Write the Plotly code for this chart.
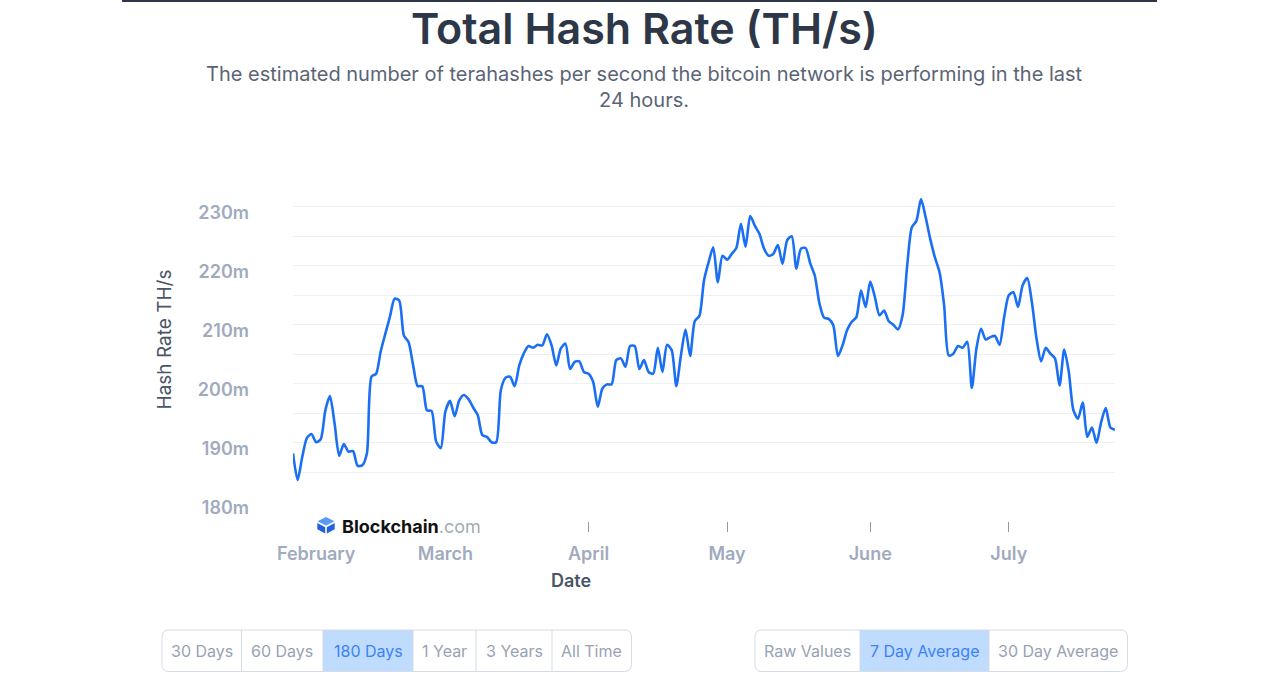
import plotly.graph_objects as go
import pandas as pd

# ---------------- data ----------------
start_date = "2022-01-27"
hash_rate_m = [
    188.2, 183.7, 187.6, 190.8, 191.5, 190.1, 190.6, 195.5, 197.9, 193.3,
    187.8, 189.8, 188.5, 188.6, 186.1, 186.2, 188.2, 201.2, 201.7, 205.5,
    208.5, 211.4, 214.4, 214.1, 208.2, 207.1, 203.2, 199.6, 199.6, 195.5,
    195.4, 190.2, 189.1, 195.3, 197.1, 194.5, 197.2, 198.1, 197.4, 196.0,
    194.7, 191.3, 191.0, 190.1, 190.1, 198.9, 201.0, 201.2, 199.6, 203.1,
    205.2, 206.4, 206.1, 206.6, 206.5, 208.4, 206.5, 203.1, 206.0, 206.8,
    202.5, 203.7, 203.8, 202.0, 201.7, 200.3, 196.1, 199.2, 199.9, 199.9,
    204.0, 204.3, 202.9, 206.4, 206.4, 202.5, 204.0, 202.0, 201.7, 206.1,
    202.0, 206.6, 205.7, 199.6, 204.8, 209.2, 204.7, 210.6, 211.5, 217.5,
    220.6, 223.1, 217.2, 221.7, 221.0, 222.0, 223.0, 227.1, 223.2, 228.4,
    226.8, 225.4, 222.9, 221.7, 222.0, 223.5, 220.3, 224.3, 225.0, 219.5,
    222.9, 223.0, 220.4, 218.3, 213.6, 211.2, 211.0, 209.9, 204.7, 206.5,
    209.1, 210.5, 211.3, 215.8, 213.0, 217.3, 214.7, 211.6, 212.4, 210.6,
    210.0, 209.2, 211.6, 220.0, 226.5, 227.6, 231.3, 228.2, 224.5, 221.4,
    218.9, 213.3, 204.8, 205.1, 206.4, 206.1, 207.1, 199.3, 206.0, 209.3,
    207.5, 207.9, 208.1, 206.6, 211.3, 215.0, 215.5, 213.0, 216.7, 217.9,
    213.8, 207.7, 203.8, 206.1, 205.1, 204.3, 199.7, 205.8, 202.0, 195.5,
    194.1, 196.8, 191.0, 192.6, 190.0, 193.5, 195.9, 192.6, 192.2,
]
dates = pd.date_range(start_date, periods=len(hash_rate_m), freq="D")

y_tick_vals = [180, 190, 200, 210, 220, 230]
y_tick_text = ["180m", "190m", "200m", "210m", "220m", "230m"]
month_tick_vals = ["2022-02-01", "2022-03-01", "2022-04-01",
                   "2022-05-01", "2022-06-01", "2022-07-01"]
month_tick_text = ["February", "March", "April", "May", "June", "July"]

title_text = "Total Hash Rate (TH/s)"
subtitle_text = ("The estimated number of terahashes per second the bitcoin network "
                 "is performing in the last<br>24 hours.")
y_title = "Hash Rate TH/s"
x_title = "Date"

range_buttons = ["30 Days", "60 Days", "180 Days", "1 Year", "3 Years", "All Time"]
range_selected = "180 Days"
avg_buttons = ["Raw Values", "7 Day Average", "30 Day Average"]
avg_selected = "7 Day Average"

# ---------------- layout geometry (screen pixels) ----------------
W, H = 1280, 680
L, R, T, B = 293, 1115, 177, 521        # paper box on screen
PLOT_BOTTOM = 502                       # bottom of y-domain on screen

def px(x):
    return (x - L) / (R - L)

def py(y):
    return (B - y) / (B - T)

FONT = "Inter, Roboto, sans-serif"
LINE_BLUE = "#1b6ff3"
GRID = "#edf0f5"
LABEL_GRAY = "#a0abbd"
DARK = "#2d3748"
MID = "#4a5568"
BORDER = "#d5dbe4"
SEL_BG = "#bfdbfe"
SEL_TXT = "#3b82f6"
BTN_TXT = "#98a2b3"

fig = go.Figure()
fig.add_trace(go.Scatter(
    x=dates, y=hash_rate_m, mode="lines",
    line=dict(color=LINE_BLUE, width=2.6, shape="spline", smoothing=0.7),
    hoverinfo="x+y", showlegend=False,
))

shapes = []
annotations = []

# top dark rule
shapes.append(dict(type="line", xref="paper", yref="paper",
                   x0=px(122), x1=px(1157), y0=py(1), y1=py(1),
                   line=dict(color=DARK, width=2)))

# title & subtitle
annotations.append(dict(text=title_text, xref="paper", yref="paper",
                        x=px(644), y=py(28), xanchor="center", yanchor="middle",
                        height=46, valign="middle",
                        showarrow=False,
                        font=dict(family=FONT, size=43, color=DARK, weight=600)))
annotations.append(dict(text=subtitle_text, xref="paper", yref="paper",
                        x=px(644), y=py(87), xanchor="center", yanchor="middle",
                        showarrow=False, align="center",
                        font=dict(family=FONT, size=20, color="#5b6475")))

# x-axis title
annotations.append(dict(text=x_title, xref="paper", yref="paper",
                        x=px(571), y=py(580), xanchor="center", yanchor="middle",
                        showarrow=False,
                        font=dict(family=FONT, size=18, color=MID, weight=600)))

# Blockchain.com watermark (white backing covers hidden ticks)
shapes.append(dict(type="rect", xref="paper", yref="paper", layer="above",
                   x0=px(306), x1=px(484), y0=py(536), y1=py(514),
                   fillcolor="white", line=dict(width=0)))

def poly(points):
    return "M " + " L ".join(f"{px(a):.5f},{py(b):.5f}" for a, b in points) + " Z"

shapes.append(dict(type="path", xref="paper", yref="paper", layer="above",
                   path=poly([(326, 517), (334.5, 521.3), (326, 525.6), (317.5, 521.3)]),
                   fillcolor="#5a9af7", line=dict(width=0)))
shapes.append(dict(type="path", xref="paper", yref="paper", layer="above",
                   path=poly([(317.3, 523), (325.2, 527.2), (325.2, 533.5), (317.3, 529.3)]),
                   fillcolor="#1f63e0", line=dict(width=0)))
shapes.append(dict(type="path", xref="paper", yref="paper", layer="above",
                   path=poly([(326.8, 527.2), (334.7, 523), (334.7, 529.3), (326.8, 533.5)]),
                   fillcolor="#1f63e0", line=dict(width=0)))
annotations.append(dict(
    text="<b>Blockchain</b><span style='color:#a3abb8'>.com</span>",
    xref="paper", yref="paper", x=px(340), y=py(526),
    xanchor="left", yanchor="middle", showarrow=False,
    font=dict(family=FONT, size=18, color="#111111")))

# button groups
def rounded(x0, y0, x1, y1, r):
    return (f"M {px(x0+r)},{py(y0)} L {px(x1-r)},{py(y0)} "
            f"Q {px(x1)},{py(y0)} {px(x1)},{py(y0+r)} "
            f"L {px(x1)},{py(y1-r)} Q {px(x1)},{py(y1)} {px(x1-r)},{py(y1)} "
            f"L {px(x0+r)},{py(y1)} Q {px(x0)},{py(y1)} {px(x0)},{py(y1-r)} "
            f"L {px(x0)},{py(y0+r)} Q {px(x0)},{py(y0)} {px(x0+r)},{py(y0)} Z")

def button_group(labels, selected, edges, y0=630, y1=671.5):
    for i, lab in enumerate(labels):
        a, b = edges[i], edges[i + 1]
        if lab == selected:
            shapes.append(dict(type="rect", xref="paper", yref="paper", layer="above",
                               x0=px(a), x1=px(b), y0=py(y1), y1=py(y0),
                               fillcolor=SEL_BG, line=dict(width=0)))
        annotations.append(dict(text=lab, xref="paper", yref="paper",
                                x=px((a + b) / 2), y=py((y0 + y1) / 2),
                                xanchor="center", yanchor="middle", showarrow=False,
                                font=dict(family=FONT, size=16,
                                          color=SEL_TXT if lab == selected else BTN_TXT)))
    shapes.append(dict(type="path", xref="paper", yref="paper", layer="above",
                       path=rounded(edges[0], y0, edges[-1], y1, 7),
                       line=dict(color=BORDER, width=1)))
    for e in edges[1:-1]:
        shapes.append(dict(type="line", xref="paper", yref="paper", layer="above",
                           x0=px(e), x1=px(e), y0=py(y0), y1=py(y1),
                           line=dict(color=BORDER, width=1)))

button_group(range_buttons, range_selected, [162, 241.5, 323, 413, 476, 552, 631.5])
button_group(avg_buttons, avg_selected, [755, 860, 989, 1127.5])

fig.update_layout(
    width=W, height=H,
    margin=dict(l=L, r=W - R, t=T, b=H - B, pad=0),
    paper_bgcolor="white", plot_bgcolor="white",
    showlegend=False,
    shapes=shapes, annotations=annotations,
    xaxis=dict(
        type="date", range=[dates[0], dates[-1]],
        anchor="free", position=0,
        tickvals=month_tick_vals, ticktext=month_tick_text,
        ticks="outside", ticklen=10, tickwidth=1, tickcolor="#8f98a8",
        ticklabelstandoff=6,
        showgrid=False, zeroline=False, showline=False,
        tickfont=dict(family=FONT, size=18, color=LABEL_GRAY, weight=600),
    ),
    yaxis=dict(
        domain=[py(PLOT_BOTTOM), 1],
        range=[179.97, 235.03],
        tickvals=y_tick_vals, ticktext=y_tick_text,
        showgrid=True, gridcolor=GRID, gridwidth=1,
        minor=dict(dtick=5, tick0=180, showgrid=True, gridcolor=GRID, gridwidth=1),
        zeroline=False, showline=False, ticks="",
        ticklabelstandoff=43, ticklabelshift=6,
        tickfont=dict(family=FONT, size=18, color=LABEL_GRAY, weight=600),
        title=dict(text=y_title, standoff=21,
                   font=dict(family=FONT, size=19, color=MID)),
    ),
)

fig.write_html(
    "out.html",
    config={"displayModeBar": False},
    post_script="document.body.style.margin='0';document.body.style.overflow='hidden';",
)
